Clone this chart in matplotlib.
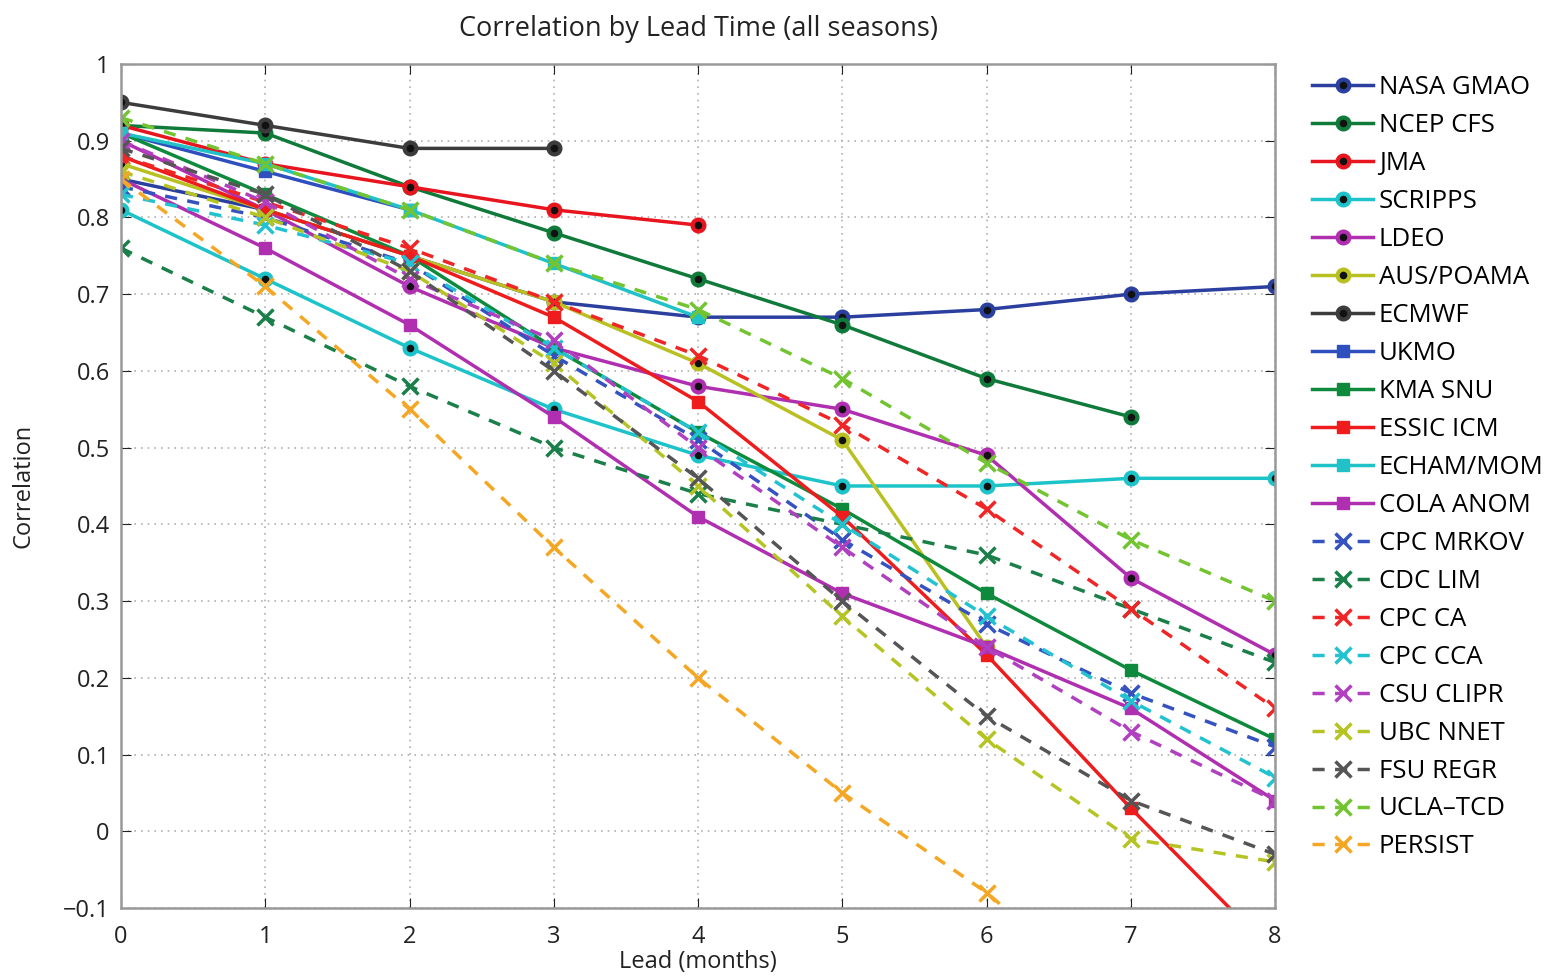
import matplotlib
matplotlib.use("Agg")
import matplotlib.pyplot as plt

plt.rcParams['font.family'] = ['Open Sans', 'DejaVu Sans']

leads = [0, 1, 2, 3, 4, 5, 6, 7, 8]

NASA_GMAO = [0.85, 0.81, 0.75, 0.69, 0.67, 0.67, 0.68, 0.70, 0.71]
NCEP_CFS = [0.92, 0.91, 0.84, 0.78, 0.72, 0.66, 0.59, 0.54]
JMA = [0.92, 0.87, 0.84, 0.81, 0.79]
SCRIPPS = [0.81, 0.72, 0.63, 0.55, 0.49, 0.45, 0.45, 0.46, 0.46]
LDEO = [0.90, 0.81, 0.71, 0.63, 0.58, 0.55, 0.49, 0.33, 0.23]
AUS_POAMA = [0.87, 0.81, 0.75, 0.69, 0.61, 0.51, 0.24]
ECMWF = [0.95, 0.92, 0.89, 0.89]
UKMO = [0.91, 0.86, 0.81]
KMA_SNU = [0.91, 0.83, 0.75, 0.63, 0.52, 0.42, 0.31, 0.21, 0.12]
ESSIC_ICM = [0.88, 0.81, 0.75, 0.67, 0.56, 0.41, 0.23, 0.03, -0.16]
ECHAM_MOM = [0.91, 0.87, 0.81, 0.74, 0.67]
COLA_ANOM = [0.85, 0.76, 0.66, 0.54, 0.41, 0.31, 0.24, 0.16, 0.04]
CPC_MRKOV = [0.84, 0.80, 0.74, 0.62, 0.51, 0.38, 0.27, 0.18, 0.11]
CDC_LIM = [0.76, 0.67, 0.58, 0.50, 0.44, 0.40, 0.36, 0.29, 0.22]
CPC_CA = [0.88, 0.82, 0.76, 0.69, 0.62, 0.53, 0.42, 0.29, 0.16]
CPC_CCA = [0.83, 0.79, 0.74, 0.63, 0.52, 0.40, 0.28, 0.17, 0.07]
CSU_CLIPR = [0.90, 0.82, 0.72, 0.64, 0.50, 0.37, 0.24, 0.13, 0.04]
UBC_NNET = [0.86, 0.80, 0.73, 0.61, 0.45, 0.28, 0.12, -0.01, -0.04]
FSU_REGR = [0.89, 0.83, 0.73, 0.60, 0.46, 0.30, 0.15, 0.04, -0.03]
UCLA_TCD = [0.93, 0.87, 0.81, 0.74, 0.68, 0.59, 0.48, 0.38, 0.30]
PERSIST = [0.85, 0.71, 0.55, 0.37, 0.20, 0.05, -0.08, -0.24]

series = [
    ("NASA GMAO", NASA_GMAO, '#2b3f9f', 'o', '-'),
    ("NCEP CFS", NCEP_CFS, '#0f7a3a', 'o', '-'),
    ("JMA", JMA, '#e8151f', 'o', '-'),
    ("SCRIPPS", SCRIPPS, '#1cc3c9', 'o', '-'),
    ("LDEO", LDEO, '#b02fb0', 'o', '-'),
    ("AUS/POAMA", AUS_POAMA, '#b9c021', 'o', '-'),
    ("ECMWF", ECMWF, '#3c3c3c', 'o', '-'),
    ("UKMO", UKMO, '#2f4fbf', 's', '-'),
    ("KMA SNU", KMA_SNU, '#0e8a3c', 's', '-'),
    ("ESSIC ICM", ESSIC_ICM, '#ee1c1c', 's', '-'),
    ("ECHAM/MOM", ECHAM_MOM, '#20c2c8', 's', '-'),
    ("COLA ANOM", COLA_ANOM, '#b02fb0', 's', '-'),
    ("CPC MRKOV", CPC_MRKOV, '#3452c0', 'x', '--'),
    ("CDC LIM", CDC_LIM, '#1a7f48', 'x', '--'),
    ("CPC CA", CPC_CA, '#f02525', 'x', '--'),
    ("CPC CCA", CPC_CCA, '#22c2d0', 'x', '--'),
    ("CSU CLIPR", CSU_CLIPR, '#b040c0', 'x', '--'),
    ("UBC NNET", UBC_NNET, '#b5c423', 'x', '--'),
    ("FSU REGR", FSU_REGR, '#555555', 'x', '--'),
    ("UCLA\u2013TCD", UCLA_TCD, '#72c430', 'x', '--'),
    ("PERSIST", PERSIST, '#f5a623', 'x', '--'),
]

fig = plt.figure(figsize=(15.55, 9.8), dpi=100)
ax = fig.add_axes([0.0778, 0.0735, 0.7422, 0.8612])

for name, vals, col, mk, ls in series:
    xs = leads[:len(vals)]
    if mk == 'o':
        ax.plot(xs, vals, ls, color=col, lw=2.5, marker='o', ms=8.5,
                mfc='#111111', mec=col, mew=3.0, label=name)
    elif mk == 's':
        ax.plot(xs, vals, ls, color=col, lw=2.5, marker='s', ms=9,
                mfc=col, mec=col, label=name)
    else:
        ax.plot(xs, vals, ls, color=col, lw=2.5, marker='x', ms=11,
                mew=2.5, dashes=(3.5, 3), label=name)

ax.set_xlim(0, 8)
ax.set_ylim(-0.1, 1.0)
ax.set_xticks(leads)
yt = [-0.1, 0, 0.1, 0.2, 0.3, 0.4, 0.5, 0.6, 0.7, 0.8, 0.9, 1]
ax.set_yticks(yt)
ax.set_yticklabels(['\u22120.1', '0', '0.1', '0.2', '0.3', '0.4', '0.5',
                    '0.6', '0.7', '0.8', '0.9', '1'])
ax.grid(True, linestyle=(0, (1, 3)), color='#b0b0b0', lw=1.2)
ax.tick_params(direction='in', length=7, labelsize=17, colors='#222222',
               top=True, right=True, pad=8)
ax.tick_params(axis='x', pad=12)
for s in ax.spines.values():
    s.set_color('#999999')
    s.set_linewidth(1.8)

ax.set_title('Correlation by Lead Time (all seasons)', fontsize=19.5, pad=20,
             color='#222222')
ax.set_xlabel('Lead (months)', fontsize=17, labelpad=1, color='#222222')
ax.set_ylabel('Correlation', fontsize=17, labelpad=20, color='#222222')

leg = fig.legend(loc='upper left', bbox_to_anchor=(0.837, 0.934),
                 fontsize=18.5, frameon=False, handlelength=2.4,
                 labelspacing=0.505, handletextpad=0.2, borderaxespad=0)

fig.savefig('out.png', dpi=100)
